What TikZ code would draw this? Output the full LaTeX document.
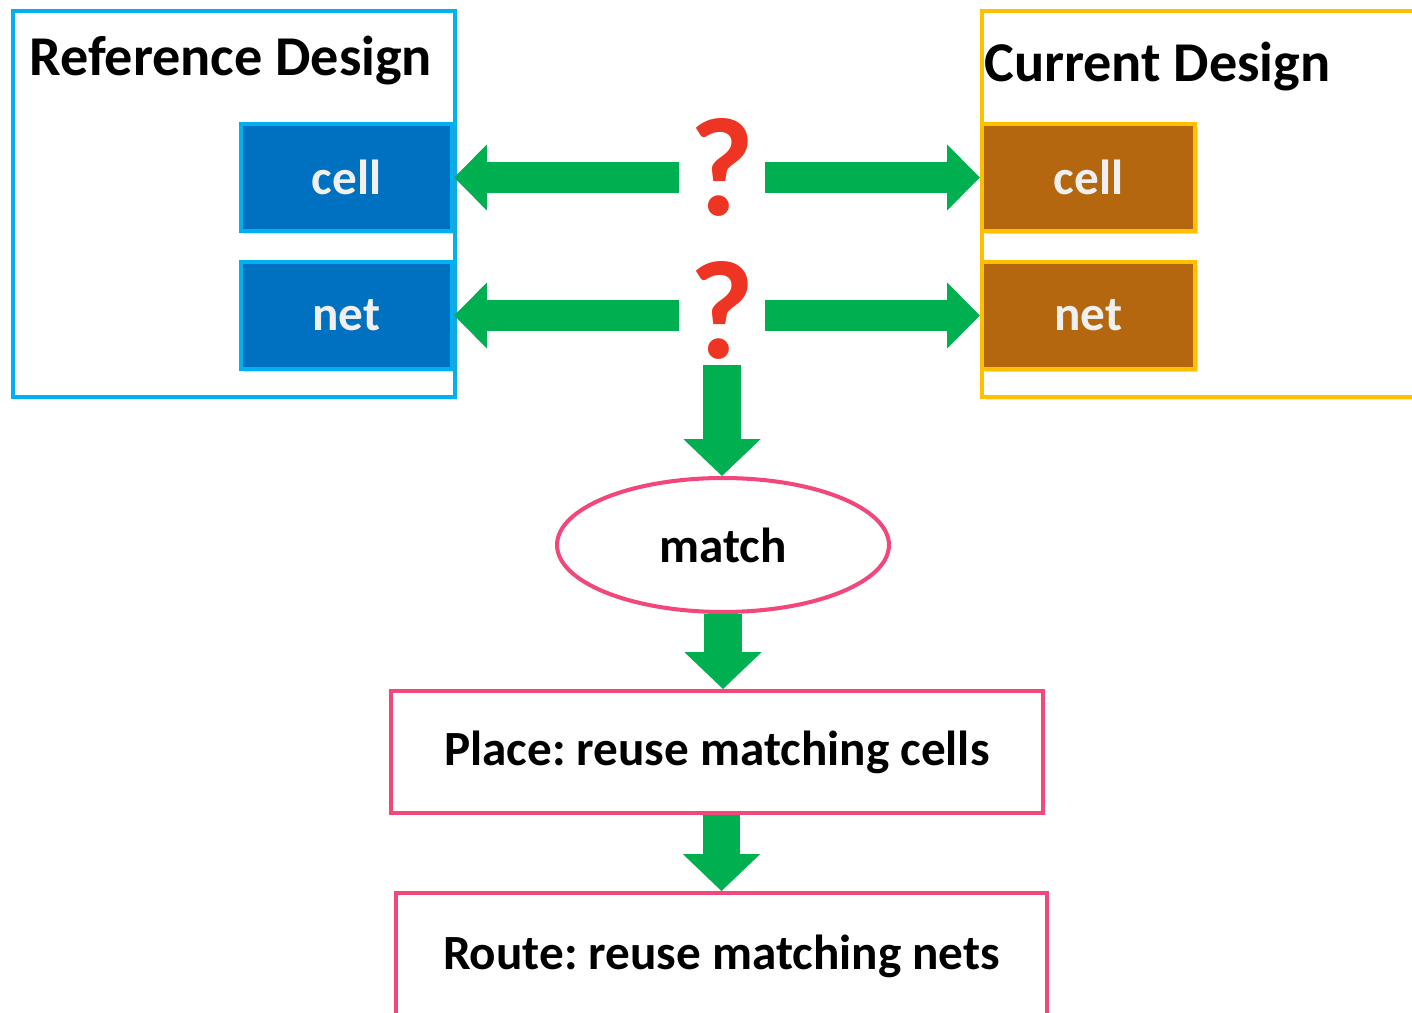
\documentclass[tikz,border=0pt]{standalone}
\usepackage{fontspec}
\setmainfont{Carlito}
\usepackage{tikz}
\usetikzlibrary{shapes,arrows.meta,positioning,shadows}
\usepackage{xcolor}
\frenchspacing

\definecolor{refblue}{HTML}{00B0F0}
\definecolor{cellblue}{HTML}{0070C0}
\definecolor{curorange}{HTML}{FFC000}
\definecolor{cellbrown}{HTML}{B5670F}
\definecolor{flowgreen}{HTML}{00B050}
\definecolor{qred}{HTML}{EE3524}
\definecolor{flowpink}{HTML}{F2477A}

\begin{document}
\begin{tikzpicture}[x=0.02cm, y=-0.02cm,
    designframe/.style={draw, line width=2.3pt, rectangle, fill=white, inner sep=0pt,
        drop shadow={shadow xshift=1.5pt, shadow yshift=-1.5pt, opacity=0.15}},
    cellbox/.style={draw, line width=2.6pt, rectangle, inner sep=0pt, minimum height=2.14cm,
        text=white!94!black, font=\fontsize{28}{32}\selectfont\bfseries,
        drop shadow={shadow xshift=1.5pt, shadow yshift=-1.5pt, opacity=0.3}},
    titletext/.style={anchor=base west, inner sep=0pt, font=\fontsize{32}{38}\selectfont\bfseries},
    qmark/.style={text=qred, inner xsep=0pt, inner ysep=3pt, minimum width=1.7cm,
        font=\fontsize{80}{90}\selectfont\bfseries},
    flowbox/.style={draw=flowpink, line width=2.3pt, rectangle, fill=white, inner sep=0pt,
        font=\fontsize{28}{32}\selectfont\bfseries},
    hflow/.style={draw=flowgreen, line width=18pt,
        -{Triangle[width=37.5pt, length=18.5pt, line width=0pt]}},
    vflow/.style={draw=flowgreen, line width=21.5pt,
        -{Triangle[width=44pt, length=21pt, line width=0pt]}}
]
    \useasboundingbox (0,0) rectangle (1412,1013);
    \clip (0,0) rectangle (1412,1013);

    % the two designs
    \node[designframe, draw=refblue, minimum width=8.84cm, minimum height=7.72cm] (refdesign) at (234,204) {};
    \node[designframe, draw=curorange, minimum width=9.2cm, minimum height=7.72cm] (curdesign) at (1212,204) {};
    \node[titletext] (reftitle) at (29,76) {Reference Design};
    \node[titletext] (curtitle) at (984,82) {Current Design};

    \node[cellbox, draw=refblue, fill=cellblue, minimum width=4.22cm] (refcell) at (346.5,177.5) {cell};
    \node[cellbox, draw=refblue, fill=cellblue, minimum width=4.22cm] (refnet) at (346.5,315.5) {net};
    \node[cellbox, draw=curorange, fill=cellbrown, minimum width=4.26cm] (curcell) at (1088.5,177.5) {cell};
    \node[cellbox, draw=curorange, fill=cellbrown, minimum width=4.26cm] (curnet) at (1088.5,315.5) {net};

    % which ones correspond?
    \node[qmark] (q1) at (722,167.5) {?};
    \node[qmark] (q2) at (722,310) {?};

    \draw[hflow] (q1.west |- refcell.east) -- (refcell.east);
    \draw[hflow] (q1.east |- curcell.west) -- (curcell.west);
    \draw[hflow] (q2.west |- refnet.east) -- (refnet.east);
    \draw[hflow] (q2.east |- curnet.west) -- (curnet.west);

    % flow
    \node[flowbox, ellipse, minimum width=6.64cm, minimum height=2.68cm] (match) at (723,545) {match};
    \node[flowbox, minimum width=13.04cm, minimum height=2.44cm] (place) at (717,752) {Place: reuse matching cells};
    \node[flowbox, minimum width=13.02cm, minimum height=2.52cm] (route) at (721.5,956) {Route: reuse matching nets};

    \draw[vflow] (q2.south) -- (q2.south |- match.north);
    \draw[vflow] (match.south) -- (match.south |- place.north);
    \draw[vflow] (route.north |- place.south) -- (route.north);
\end{tikzpicture}
\end{document}
